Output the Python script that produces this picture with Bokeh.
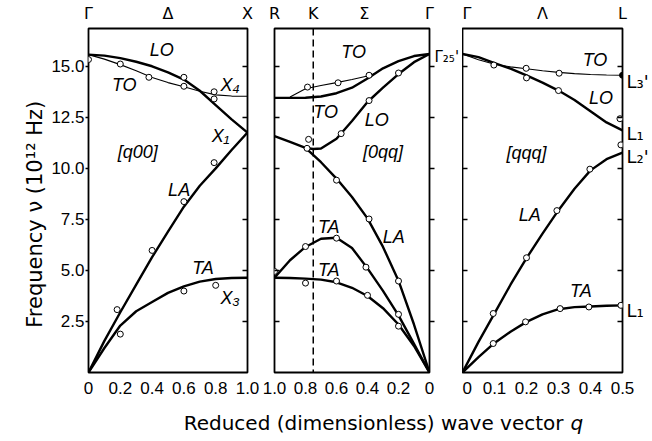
import math
from bokeh.plotting import figure
from bokeh.models import Range1d, LinearAxis, FixedTicker, Span, Label
from bokeh.layouts import row, column
from bokeh.core.properties import value
from bokeh.embed import file_html
from bokeh.resources import INLINE

# ---------------- data ----------------
freq_ticks = [2.5, 5.0, 7.5, 10.0, 12.5, 15.0]
freq_tick_labels = ["2.5", "5.0", "7.5", "10.0", "12.5", "15.0"]
freq_max = 16.85

# Panel 1: [q00], Gamma -> X
d_q = [0.0, 0.1, 0.2, 0.3, 0.4, 0.5, 0.6, 0.7, 0.8, 0.9, 1.0]
d_lo = [15.57, 15.52, 15.40, 15.22, 15.00, 14.70, 14.35, 13.80, 13.10, 12.40, 11.75]
d_to = [15.57, 15.35, 15.08, 14.78, 14.45, 14.20, 14.00, 13.78, 13.60, 13.54, 13.53]
d_la = [0.0, 1.55, 2.95, 4.30, 5.65, 6.90, 8.12, 9.15, 10.00, 10.90, 11.75]
d_ta = [0.0, 1.20, 2.30, 3.00, 3.45, 3.90, 4.22, 4.45, 4.58, 4.63, 4.64]
d_pts_q = [0.0, 0.2, 0.38, 0.6, 0.6, 0.79, 0.79, 0.79, 0.6, 0.4, 0.18, 0.2, 0.6, 0.8]
d_pts_f = [15.33, 15.11, 14.46, 14.46, 14.02, 13.75, 13.40, 10.28, 8.37, 5.98, 3.08, 1.88, 3.99, 4.27]
d_xticks = [0.0, 0.2, 0.4, 0.6, 0.8, 1.0]
d_sym_q = [0.0, 0.5, 1.0]
d_sym = ["Γ", "Δ", "X"]
d_lab = ["LO", "TO", "X₄", "X₁", "[q00]", "LA", "TA", "X₃"]
d_lab_q = [0.46, 0.225, 0.89, 0.83, 0.31, 0.57, 0.72, 0.89]
d_lab_f = [15.8, 14.07, 14.1, 11.6, 10.8, 8.95, 5.1, 3.63]

# Panel 2: [0qq], R/K -> Gamma (q decreasing to the right)
s_q = [1.0, 0.9, 0.8, 0.7, 0.6, 0.5, 0.4, 0.3, 0.2, 0.1, 0.0]
s_to = [13.45, 13.45, 13.46, 13.52, 13.68, 13.95, 14.40, 14.90, 15.25, 15.50, 15.60]
s_to2_q = [0.9, 0.8, 0.7, 0.6, 0.5, 0.4, 0.35]
s_to2 = [13.50, 13.90, 14.06, 14.20, 14.35, 14.52, 14.65]
s_lo_q = [0.8, 0.75, 0.7, 0.6, 0.5, 0.4, 0.3, 0.2, 0.1, 0.0]
s_lo = [11.00, 10.95, 10.97, 11.45, 12.32, 13.25, 13.95, 14.62, 15.20, 15.60]
s_la = [11.58, 11.30, 11.00, 10.30, 9.50, 8.60, 7.55, 6.15, 4.50, 2.35, 0.0]
s_ta1 = [4.64, 5.50, 6.15, 6.55, 6.60, 6.10, 5.10, 4.00, 2.80, 1.40, 0.0]
s_ta2 = [4.64, 4.63, 4.60, 4.55, 4.42, 4.15, 3.75, 3.15, 2.35, 1.30, 0.0]
s_pts_q = [0.787, 0.59, 0.39, 0.2, 0.39, 0.57, 0.78, 0.79, 0.6, 0.39, 0.2,
           0.8, 0.6, 0.41, 0.2, 0.8, 0.6, 0.4, 0.2, 1.0]
s_pts_f = [13.98, 14.19, 14.56, 14.67, 13.32, 11.70, 11.42, 10.98, 9.42, 7.52, 4.48,
           6.17, 6.58, 5.16, 2.85, 4.38, 4.48, 3.78, 2.27, 4.95]
s_k = 0.75
s_xticks = [1.0, 0.8, 0.6, 0.4, 0.2, 0.0]
s_sym_q = [1.0, 0.75, 0.42, 0.0]
s_sym = ["R", "K", "Σ", "Γ"]
s_lab = ["TO", "TO", "LO", "[0qq]", "LA", "TA", "TA"]
s_lab_q = [0.49, 0.67, 0.34, 0.30, 0.23, 0.65, 0.65]
s_lab_f = [15.7, 12.75, 12.35, 10.8, 6.65, 7.15, 5.0]
s_gamma_label = ["Γ₂₅'"]
s_gamma_f = [15.45]

# Panel 3: [qqq], Gamma -> L
l_q = [0.0, 0.05, 0.1, 0.15, 0.2, 0.25, 0.3, 0.35, 0.4, 0.45, 0.5]
l_to = [15.60, 15.32, 15.10, 14.97, 14.88, 14.78, 14.70, 14.64, 14.60, 14.57, 14.56]
l_lo = [15.60, 15.45, 15.15, 14.88, 14.55, 14.20, 13.81, 13.35, 12.80, 12.25, 11.86]
l_la = [0.0, 1.50, 2.90, 4.30, 5.60, 6.80, 7.95, 9.00, 9.90, 10.45, 10.77]
l_ta = [0.0, 0.75, 1.45, 2.00, 2.48, 2.85, 3.10, 3.20, 3.23, 3.27, 3.29]
l_pts_q = [0.098, 0.199, 0.302, 0.2, 0.3, 0.492, 0.495, 0.398, 0.295, 0.2, 0.096,
           0.096, 0.197, 0.305, 0.395, 0.495]
l_pts_f = [15.06, 14.90, 14.66, 14.43, 13.81, 12.43, 11.15, 9.96, 7.93, 5.62, 2.89,
           1.42, 2.48, 3.13, 3.21, 3.29]
l_filled_q = [0.5]
l_filled_f = [14.56]
l_xticks = [0.0, 0.1, 0.2, 0.3, 0.4, 0.5]
l_sym_q = [0.0, 0.25, 0.5]
l_sym = ["Γ", "Λ", "L"]
l_lab = ["TO", "LO", "[qqq]", "LA", "TA"]
l_lab_q = [0.414, 0.433, 0.2, 0.21, 0.37]
l_lab_f = [15.3, 13.45, 10.75, 7.7, 4.0]
l_end_f = [14.27, 11.7, 10.6, 3.05]
l_end = ["L₃'", "L₁", "L₂'", "L₁"]

x_title = "Reduced (dimensionless) wave vector"
x_title_q = "q"
y_title = "Frequency ν (10¹² Hz)"

# ---------------- styling ----------------
FONT = "Liberation Sans"
TFONT = "DejaVu Sans"
THICK = 2.4
THIN = 1.1
TOP = 27
FRAME_H = 345
BOTTOM = 28
H = TOP + FRAME_H + BOTTOM
YT_W = 48


def fmt(v):
    return "0" if v == 0 else f"{v:.1f}"


def panel(x_range, width, bl, br, xticks, sym_q, sym):
    p = figure(width=width, height=H, x_range=x_range, y_range=Range1d(0, freq_max),
               output_backend="svg", toolbar_location=None,
               x_axis_location=None, y_axis_location=None,
               min_border_left=bl, min_border_right=br,
               min_border_top=TOP, min_border_bottom=BOTTOM)
    p.outline_line_color = "black"
    p.outline_line_width = 1.8
    p.background_fill_color = "white"
    p.border_fill_color = "white"
    p.xgrid.visible = False
    p.ygrid.visible = False
    below = LinearAxis(ticker=FixedTicker(ticks=xticks),
                       major_label_overrides={t: fmt(t) for t in xticks},
                       axis_line_color=None, major_tick_in=0, major_tick_out=0,
                       minor_tick_in=0, minor_tick_out=0,
                       major_label_standoff=9,
                       major_label_text_font=FONT, major_label_text_font_size="17px",
                       major_label_text_color="black")
    p.add_layout(below, "below")
    above = LinearAxis(ticker=FixedTicker(ticks=sym_q),
                       major_label_overrides={t: s for t, s in zip(sym_q, sym)},
                       axis_line_color=None, major_tick_in=0, major_tick_out=0,
                       minor_tick_in=0, minor_tick_out=0,
                       major_label_standoff=6,
                       major_label_text_font=TFONT, major_label_text_font_size="16px",
                       major_label_text_color="black")
    p.add_layout(above, "above")
    return p


def tick_axis(p, side, tin, tout):
    ax = LinearAxis(ticker=FixedTicker(ticks=freq_ticks), axis_line_color=None,
                    major_label_overrides={t: "" for t in freq_ticks},
                    major_tick_in=tin, major_tick_out=tout,
                    minor_tick_in=0, minor_tick_out=0,
                    major_tick_line_width=1.5, major_tick_line_color="black",
                    major_label_text_font_size="10px", major_label_standoff=0)
    p.add_layout(ax, side)
    return ax


def label_axis(p, side, ticks, texts, size, standoff):
    ax = LinearAxis(ticker=FixedTicker(ticks=ticks),
                    major_label_overrides={t: s for t, s in zip(ticks, texts)},
                    axis_line_color=None, major_tick_in=0, major_tick_out=0,
                    minor_tick_in=0, minor_tick_out=0, major_label_standoff=standoff,
                    major_label_text_font=TFONT, major_label_text_font_size=size,
                    major_label_text_color="black")
    p.add_layout(ax, side)
    return ax


def draw(p, x, y, width):
    p.line(x, y, line_color="black", line_width=width)


def points(p, x, y):
    p.scatter(x, y, marker="circle", size=6, line_color="black", line_width=1,
              fill_color="white")


def labels(p, x, y, t):
    p.text(x=x, y=y, text=t, text_font=value(FONT), text_font_style="italic",
           text_font_size="18px", text_align="center", text_baseline="middle",
           text_color="black")


# ---- y title ----
py_t = figure(width=YT_W, height=H, x_range=Range1d(0, YT_W), y_range=Range1d(0, H),
              output_backend="svg", toolbar_location=None,
              x_axis_location=None, y_axis_location=None, min_border=0)
py_t.outline_line_color = None
py_t.xgrid.visible = False
py_t.ygrid.visible = False
py_t.add_layout(Label(x=34, y=184, text=y_title, angle=math.pi / 2,
                      text_font=TFONT, text_font_size="21px",
                      text_align="center", text_baseline="middle", text_color="black"))

# ---- panel 1 ----
p1 = panel(Range1d(0.0, 1.0), 261 - YT_W, 88 - YT_W, 14, d_xticks, d_sym_q, d_sym)
left = LinearAxis(ticker=FixedTicker(ticks=freq_ticks),
                  major_label_overrides={t: s for t, s in zip(freq_ticks, freq_tick_labels)},
                  axis_line_color=None, major_tick_in=0, major_tick_out=3,
                  minor_tick_in=0, minor_tick_out=0,
                  major_tick_line_width=1.5, major_label_standoff=1,
                  major_label_text_font=FONT, major_label_text_font_size="17px",
                  major_label_text_color="black")
p1.add_layout(left, "left")
tick_axis(p1, "right", 5, 0)
draw(p1, d_q, d_lo, THICK)
draw(p1, d_q, d_to, THIN)
draw(p1, d_q, d_la, THICK)
draw(p1, d_q, d_ta, THICK)
points(p1, d_pts_q, d_pts_f)
labels(p1, d_lab_q, d_lab_f, d_lab)

# ---- panel 2 ----
p2 = panel(Range1d(1.0, 0.0), 201, 13, 28, s_xticks, s_sym_q, s_sym)
tick_axis(p2, "left", 5, 0)
tick_axis(p2, "right", 0, 5)
label_axis(p2, "right", s_gamma_f, s_gamma_label, "15px", 0)
p2.add_layout(Span(location=s_k, dimension="height", line_color="black",
                   line_width=1.5, line_dash="7 4"))
draw(p2, s_q, s_to, THICK)
draw(p2, s_to2_q, s_to2, THIN)
draw(p2, s_lo_q, s_lo, THICK)
draw(p2, s_q, s_la, THICK)
draw(p2, s_q, s_ta1, THICK)
draw(p2, s_q, s_ta2, THICK)
points(p2, s_pts_q, s_pts_f)
labels(p2, s_lab_q, s_lab_f, s_lab)

# ---- panel 3 ----
p3 = panel(Range1d(0.0, 0.5), 189, 0, 28, l_xticks, l_sym_q, l_sym)
tick_axis(p3, "left", 5, 0)
tick_axis(p3, "right", 5, 0)
label_axis(p3, "right", l_end_f, l_end, "18px", 4)
draw(p3, l_q, l_to, THIN)
draw(p3, l_q, l_lo, THICK)
draw(p3, l_q, l_la, THICK)
draw(p3, l_q, l_ta, THICK)
points(p3, l_pts_q, l_pts_f)
p3.scatter(l_filled_q, l_filled_f, marker="circle", size=6, color="black")
labels(p3, l_lab_q, l_lab_f, l_lab)

# ---- shared x title ----
pt = figure(width=651, height=38, x_range=Range1d(0, 651), y_range=Range1d(0, 38),
            output_backend="svg", toolbar_location=None,
            x_axis_location=None, y_axis_location=None, min_border=0)
pt.outline_line_color = None
pt.xgrid.visible = False
pt.ygrid.visible = False
pt.add_layout(Label(x=563, y=16, text=x_title, text_font=TFONT, text_font_size="20px",
                    text_align="right", text_baseline="middle", text_color="black"))
pt.add_layout(Label(x=570, y=16, text=x_title_q, text_font=TFONT, text_font_size="20px",
                    text_font_style="italic", text_align="left", text_baseline="middle",
                    text_color="black"))

layout = column(row(py_t, p1, p2, p3, spacing=0), pt, spacing=0)
open("out.html", "w").write(file_html(layout, INLINE))
